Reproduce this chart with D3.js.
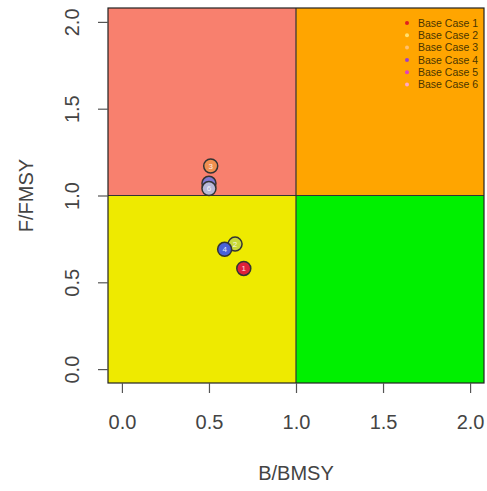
<!DOCTYPE html>
<html>
<head>
<meta charset="utf-8">
<script src="https://cdn.jsdelivr.net/npm/d3@7"></script>
<style>
  body { margin: 0; background: #fff; }
  text { font-family: "Liberation Sans", Arial, sans-serif; }
</style>
</head>
<body>
<div id="chart"></div>
<script>
// data
const cases = ["Base Case 1", "Base Case 2", "Base Case 3", "Base Case 4", "Base Case 5", "Base Case 6"];
const caseIds = [1, 2, 3, 4, 5, 6];
const bRatio = [0.70, 0.65, 0.51, 0.59, 0.50, 0.50];
const fRatio = [0.58, 0.72, 1.17, 0.69, 1.07, 1.04];
const pointColors = ["#e0203a", "#c8d838", "#f09050", "#4a62d8", "#7f78d0", "#b8b8d8"];
const legendColors = ["#e02020", "#ffe070", "#ffc070", "#a040c8", "#e040c0", "#ffa8c8"];
const axisTicks = [0, 0.5, 1, 1.5, 2];

// quadrants: [x0, x1, y0, y1, fill]
const quadrants = [
  { x0: -0.08, x1: 1, y0: 1, y1: 2.08, fill: "#f8806e" },
  { x0: 1, x1: 2.08, y0: 1, y1: 2.08, fill: "#ffa500" },
  { x0: -0.08, x1: 1, y0: -0.08, y1: 1, fill: "#eeea00" },
  { x0: 1, x1: 2.08, y0: -0.08, y1: 1, fill: "#00f000" }
];

const W = 487, H = 491;
const plot = { left: 108, right: 484, top: 8, bottom: 383 };

const svg = d3.select("#chart")
  .append("svg")
  .attr("width", W)
  .attr("height", H);

const x = d3.scaleLinear().domain([-0.08, 2.08]).range([plot.left, plot.right]);
const y = d3.scaleLinear().domain([-0.08, 2.08]).range([plot.bottom, plot.top]);

// background quadrants
svg.append("g")
  .selectAll("rect")
  .data(quadrants)
  .enter()
  .append("rect")
  .attr("x", d => x(d.x0))
  .attr("y", d => y(d.y1))
  .attr("width", d => x(d.x1) - x(d.x0))
  .attr("height", d => y(d.y0) - y(d.y1))
  .style("fill", d => d.fill);

// reference lines at 1
svg.append("line")
  .attr("x1", x(1)).attr("x2", x(1))
  .attr("y1", plot.top).attr("y2", plot.bottom)
  .style("stroke", "#333").style("stroke-width", 1.2);
svg.append("line")
  .attr("x1", plot.left).attr("x2", plot.right)
  .attr("y1", y(1)).attr("y2", y(1))
  .style("stroke", "#333").style("stroke-width", 1.2);

// frame
svg.append("rect")
  .attr("x", plot.left)
  .attr("y", plot.top)
  .attr("width", plot.right - plot.left)
  .attr("height", plot.bottom - plot.top)
  .style("fill", "none")
  .style("stroke", "#222")
  .style("stroke-width", 1.2);

// axes
const xAxis = d3.axisBottom(x)
  .tickValues(axisTicks)
  .tickSize(10)
  .tickPadding(22)
  .tickFormat(d3.format(".1f"));

const gx = svg.append("g")
  .attr("transform", `translate(0, ${plot.bottom})`)
  .call(xAxis);
gx.select(".domain").remove();
gx.selectAll("line").style("stroke", "#555").style("stroke-width", 1.2);
gx.selectAll("text")
  .style("font-size", "20px")
  .style("fill", "#444");

const yAxis = d3.axisLeft(y)
  .tickValues(axisTicks)
  .tickSize(10)
  .tickFormat(d3.format(".1f"));

const gy = svg.append("g")
  .attr("transform", `translate(${plot.left}, 0)`)
  .call(yAxis);
gy.select(".domain").remove();
gy.selectAll("line").style("stroke", "#555").style("stroke-width", 1.2);
// tick groups already sit at y(d), so only shift left and rotate
gy.selectAll("text")
  .attr("x", null).attr("dy", null)
  .attr("transform", `translate(${79 - plot.left}, 0) rotate(-90)`)
  .attr("text-anchor", "middle")
  .style("font-size", "20px")
  .style("fill", "#444");

// axis titles
svg.append("text")
  .text("B/BMSY")
  .attr("x", x(1))
  .attr("y", 480)
  .attr("text-anchor", "middle")
  .style("font-size", "20px")
  .style("fill", "#444");

svg.append("text")
  .text("F/FMSY")
  .attr("transform", `translate(33, ${y(1)}) rotate(-90)`)
  .attr("text-anchor", "middle")
  .style("font-size", "20px")
  .style("fill", "#444");

// points
const pts = svg.append("g")
  .selectAll("g")
  .data(caseIds)
  .enter()
  .append("g")
  .attr("transform", (d, i) => `translate(${x(bRatio[i])}, ${y(fRatio[i])})`);

pts.append("circle")
  .attr("r", 7)
  .style("fill", (d, i) => pointColors[i])
  .style("stroke", "#333")
  .style("stroke-width", 1.5);

pts.append("text")
  .text(d => d)
  .attr("text-anchor", "middle")
  .attr("dy", "0.35em")
  .style("font-size", "8px")
  .style("fill", "#fff")
  .style("opacity", 0.85);

// legend
const legend = svg.append("g")
  .selectAll("g")
  .data(cases)
  .enter()
  .append("g")
  .attr("transform", (d, i) => `translate(407, ${23 + i * 12.3})`);

legend.append("circle")
  .attr("r", 2)
  .style("fill", (d, i) => legendColors[i]);

legend.append("text")
  .text(d => d)
  .attr("x", 11)
  .attr("dy", "0.35em")
  .style("font-size", "10.5px")
  .style("fill", "#4a3500");
</script>
</body>
</html>
